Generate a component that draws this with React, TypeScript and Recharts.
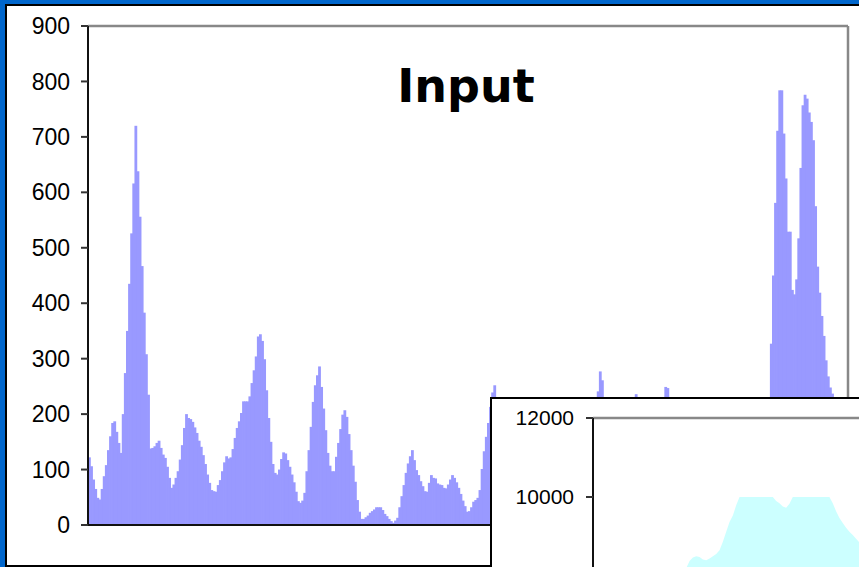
import React from 'react';
import { BarChart, Bar, XAxis, YAxis, AreaChart, Area } from 'recharts';

// histogram counts
const leftHumps = [
  122, 106, 82, 65, 49, 46, 65, 88, 108, 135, 160, 184, 187, 168, 148, 130,
  200, 274, 350, 435, 526, 616, 720, 638, 556, 467, 383, 308, 235, 138, 139, 142,
  148, 152, 139, 127, 121, 105, 85, 67, 73, 85, 97, 118, 144, 175, 200, 193,
  191, 186, 176, 166, 152, 141, 126, 110, 91, 76, 63, 61, 60, 72, 81, 97,
  113, 124, 120, 122, 137, 157, 175, 187, 202, 223, 223, 223, 232, 256, 279, 304,
  340, 344, 332, 299, 243, 193, 150, 110, 94, 91, 100, 119,
];

const middleHumps = [
  131, 129, 117, 105, 91, 77, 60, 43, 40, 44, 58, 97, 135, 177, 222, 252,
  270, 286, 249, 210, 171, 130, 107, 97, 97, 123, 148, 173, 199, 207, 195, 164,
  135, 107, 78, 45, 24, 11, 11, 14, 17, 22, 25, 28, 32, 32, 32, 27,
  20, 16, 11, 7, 4, 8, 13, 32, 52, 72, 94, 111, 124, 135, 117, 99,
  90, 79, 70, 61, 60, 76, 90, 85, 84, 75, 73, 72, 67, 66, 73, 82,
  90, 85, 77, 67, 56, 44, 34, 24, 25, 32, 42, 45, 49, 63, 101, 133,
  159, 184, 213, 239, 252,
];

// mostly behind the inset, only the spikes show above it
const behindInset = [
  220, 195, 170, 150, 140, 135, 130, 128, 125, 120, 118, 115, 112, 110, 112, 118,
  125, 130, 128, 122, 118, 115, 120, 126, 135, 142, 150, 148, 140, 132, 126, 120,
  118, 122, 130, 140, 150, 160, 165, 170, 175, 180, 185, 190, 195, 200, 208, 215,
  241, 277, 261, 220, 200, 185, 175, 170, 168, 172, 178, 185, 190, 195, 200, 205,
  210, 220, 236, 222, 210, 200, 192, 186, 182, 185, 190, 196, 202, 210, 218, 225,
  249, 247, 222, 210, 198, 186, 175, 165, 155, 148, 140, 132, 125, 118, 110, 104,
  98, 92, 88, 84, 80, 76, 72, 70, 68, 66, 65, 64, 64, 65, 66, 68,
  70, 72, 75, 78, 82, 86, 90, 95, 100, 106, 112, 118, 125, 135, 145, 160,
  180, 205,
];

const rightPeaks = [
  327, 450, 581, 711, 784, 784, 706, 625, 529, 529, 424, 416, 443, 517, 644, 757,
  776, 769, 744, 727, 694, 575, 466, 419, 377, 341, 297, 268, 248, 237, 210, 170,
  120, 80, 40, 15, 5,
];

const counts = [...leftHumps, ...middleHumps, ...behindInset, ...rightPeaks];
const histData = counts.map((count, bin) => ({ bin, count }));
const yTicks = [0, 100, 200, 300, 400, 500, 600, 700, 800, 900];

// inset (second chart), only its top part is in the picture
const insetSteps = [
  27, 28, 29, 30, 31, 32, 33, 34, 35, 36, 37, 38, 39, 40, 41, 42,
  43, 44, 45, 46, 47, 48, 49, 50, 51, 52, 53, 54, 55, 56, 57, 58,
  59, 60, 61, 62, 63, 64, 65, 66, 67, 68, 69, 70, 71, 72, 73, 74,
  75, 76, 77, 78, 79, 80, 81, 82,
];
const insetValues = [
  8050, 8200, 8380, 8470, 8500, 8480, 8420, 8400, 8440, 8500, 8560, 8650, 8870, 9120, 9370, 9530,
  9790, 10000, 10000, 10000, 10000, 10000, 10000, 10000, 10000, 10000, 10000, 10000, 9900, 9840, 9760, 9730,
  9830, 10000, 10000, 10000, 10000, 10000, 10000, 10000, 10000, 10000, 10000, 10000, 10000, 9840, 9640, 9470,
  9340, 9220, 9120, 9040, 8940, 8850, 8760, 8660,
];
const insetData = insetSteps.map((step, i) => ({ step, value: insetValues[i] }));
// lower ticks fall below the bottom edge of the picture
const insetTicks = [10000, 12000];

const axisFont = 'Liberation Sans, Arial, sans-serif';

// bars are ~2.1px wide, widen a touch so neighbours don't leave seams
const HistBar = (props: any) => {
  const { x, y, width, height, fill } = props;
  if (!height || height <= 0) return null;
  return <rect x={x} y={y} width={width + 0.8} height={height} fill={fill} />;
};

export default function App() {
  return (
    <div style={{ position: 'absolute', left: 0, top: 0, width: 859, height: 567, background: '#0066cc', overflow: 'hidden' }}>
      <div style={{ position: 'absolute', left: 5, top: 4, width: 900, height: 559, border: '2px solid #000', background: '#fff' }} />

      <div style={{ position: 'absolute', left: 0, top: 0 }}>
        <BarChart width={859} height={567} data={histData} margin={{ top: 25, right: 9, bottom: 41, left: 0 }} barCategoryGap={0} barGap={0}>
          <XAxis dataKey="bin" tick={false} tickLine={false} height={1} axisLine={{ stroke: '#111', strokeWidth: 2 }} />
          <XAxis xAxisId="top" orientation="top" dataKey="bin" tick={false} tickLine={false} height={1} axisLine={{ stroke: '#888', strokeWidth: 2.5 }} />
          <YAxis
            domain={[0, 900]}
            ticks={yTicks}
            interval={0}
            width={88}
            tickSize={7}
            tickMargin={11}
            tick={{ fontSize: 23, fill: '#000', fontFamily: axisFont }}
            tickLine={{ stroke: '#333', strokeWidth: 2 }}
            axisLine={{ stroke: '#111', strokeWidth: 2 }}
          />
          <YAxis yAxisId="right" orientation="right" domain={[0, 900]} tick={false} tickLine={false} width={2} axisLine={{ stroke: '#888', strokeWidth: 2.5 }} />
          <Bar dataKey="count" fill="#9999ff" shape={HistBar} isAnimationActive={false} />
        </BarChart>
      </div>

      <div style={{ position: 'absolute', left: 366, top: 63, width: 200, textAlign: 'center', fontFamily: 'DejaVu Sans, sans-serif', fontWeight: 'bold', fontSize: 46, lineHeight: '46px', color: '#000' }}>
        Input
      </div>

      <div style={{ position: 'absolute', left: 490, top: 397, width: 444, height: 503, border: '2px solid #000', background: '#fff' }}>
        <AreaChart width={444} height={503} data={insetData} margin={{ top: 18, right: 10, bottom: 10, left: 0 }}>
          <XAxis type="number" dataKey="step" domain={[0, 100]} hide />
          <XAxis xAxisId="top" orientation="top" type="number" dataKey="step" domain={[0, 100]} tick={false} tickLine={false} height={1} axisLine={{ stroke: '#888', strokeWidth: 2.5 }} />
          <YAxis
            domain={[0, 12000]}
            ticks={insetTicks}
            interval={0}
            width={101}
            tickSize={7}
            tickMargin={12}
            tick={{ fontSize: 21, fill: '#000', fontFamily: axisFont }}
            tickLine={{ stroke: '#333', strokeWidth: 2 }}
            axisLine={{ stroke: '#111', strokeWidth: 2 }}
          />
          <Area dataKey="value" type="linear" stroke="none" fill="#ccffff" fillOpacity={1} isAnimationActive={false} />
        </AreaChart>
      </div>
    </div>
  );
}
